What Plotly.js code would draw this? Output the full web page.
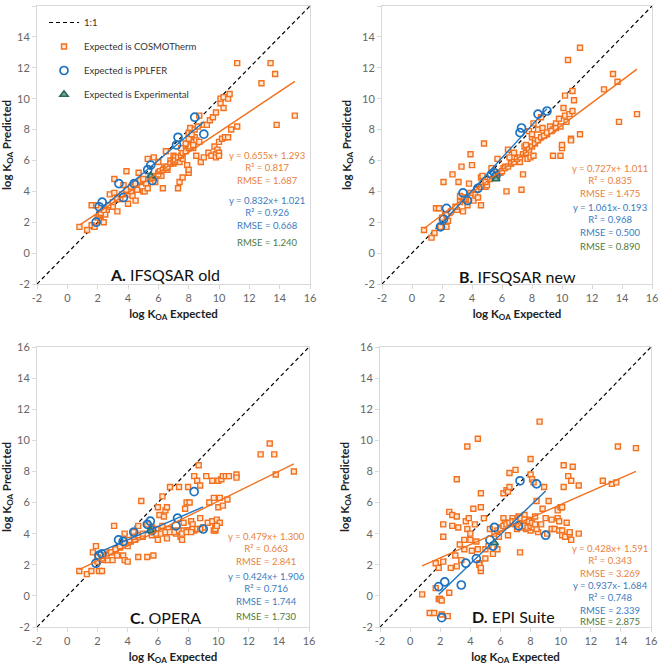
<!DOCTYPE html>
<html><head><meta charset="utf-8">
<script src="https://cdn.plot.ly/plotly-3.0.1.min.js"></script>
<style>body{margin:0;background:#fff}#c{width:661px;height:667px}</style>
</head><body><div id="c"></div>
<script>
// ---------- DATA ----------
var panelNames = ['A.', 'B.', 'C.', 'D.'];
var panelTitles = ['IFSQSAR old', 'IFSQSAR new', 'OPERA', 'EPI Suite'];

// [expected, predicted] pairs, "Expected is COSMOTherm"
var cosmoA = [[0.8,1.7],[1.3,1.5],[1.6,1.8],[1.8,1.7],[1.6,3.1],[1.9,3.1],[2.0,2.3],[2.1,2.5],[2.2,2.1],[2.4,2.0],[2.5,2.5],[2.6,2.8],[2.7,3.0],[2.8,3.8],[3.0,3.0],[3.1,3.9],[3.1,4.8],[3.3,2.7],[3.3,3.6],[3.5,3.5],[3.7,4.4],[3.9,5.3],[4.0,3.2],[4.0,3.8],[4.2,4.0],[4.3,3.7],[4.5,3.4],[4.6,4.1],[4.7,5.2],[4.9,4.6],[5.0,4.0],[5.1,4.0],[5.2,4.5],[5.3,6.1],[5.3,4.2],[5.5,4.8],[5.7,6.2],[5.8,4.6],[6.0,5.9],[6.0,5.2],[6.2,5.0],[6.3,4.2],[6.4,5.6],[6.5,6.6],[6.6,5.4],[6.8,6.0],[7.0,6.3],[7.0,5.8],[7.1,6.2],[7.3,4.2],[7.4,4.6],[7.4,5.9],[7.6,4.9],[7.6,6.1],[7.8,6.7],[7.9,5.7],[8.0,5.2],[8.0,5.4],[8.0,7.0],[8.0,7.8],[8.1,8.1],[8.3,6.8],[8.4,7.5],[8.5,6.3],[8.5,7.3],[8.7,8.9],[8.7,7.2],[8.8,5.9],[9.0,6.2],[9.0,8.3],[9.2,8.3],[9.3,6.5],[9.4,8.6],[9.5,6.3],[9.6,8.8],[9.7,6.9],[9.8,9.1],[9.8,6.4],[9.8,6.2],[9.9,6.7],[10.0,6.5],[10.0,6.3],[10.0,7.2],[10.1,9.7],[10.1,10.0],[10.2,7.4],[10.3,9.4],[10.3,10.1],[10.4,7.5],[10.6,7.5],[10.6,10.0],[10.7,10.3],[10.8,8.0],[11.2,12.3],[11.2,8.2],[12.8,11.0],[13.4,12.3],[13.7,11.6],[13.8,8.3],[15.0,8.9],
 [2.2,2.6],[2.4,2.8],[2.7,3.1],[3.0,3.3],[3.3,3.5],[3.6,3.8],[3.9,4.1],[4.2,4.3],[4.5,4.5],[4.8,4.7],[5.0,4.8],[5.6,4.9],[5.8,5.0],[6.0,5.1],[6.1,5.3],[6.3,5.4],[6.5,5.5],[6.6,5.6],[6.8,5.8],[7.0,5.9],[7.1,6.0],[7.3,6.2],[7.5,6.3],[7.6,6.5],[7.8,6.6],[8.0,6.8],[8.1,6.9],[8.3,7.0],[7.5,6.8],[7.8,7.1],[8.0,7.4],[8.2,7.7],[8.4,8.0],[8.6,8.2]];
var cosmoB = [[0.8,1.5],[1.3,1.0],[1.5,1.3],[1.6,2.9],[1.8,2.9],[1.9,1.7],[2.1,4.6],[2.2,2.5],[2.3,1.7],[2.4,2.1],[2.5,2.6],[2.7,5.1],[3.0,2.8],[3.1,4.6],[3.2,3.7],[3.3,5.6],[3.4,2.7],[3.6,3.5],[3.7,3.1],[3.8,4.5],[3.9,6.4],[4.0,5.7],[4.1,3.4],[4.2,3.8],[4.4,3.6],[4.6,4.9],[4.6,3.1],[4.7,5.0],[4.8,7.1],[4.9,4.3],[5.0,4.4],[5.3,5.5],[5.7,6.1],[5.9,5.2],[6.1,5.5],[6.2,5.6],[6.3,4.0],[6.4,6.7],[6.5,6.2],[6.6,5.8],[6.8,6.5],[7.0,6.0],[7.2,5.9],[7.3,4.1],[7.4,5.1],[7.5,6.9],[7.6,7.0],[7.8,7.9],[8.0,7.5],[8.0,7.7],[8.1,8.4],[8.2,7.3],[8.4,8.0],[8.6,8.8],[8.7,8.1],[8.8,7.6],[9.0,7.7],[9.2,8.2],[9.4,8.0],[9.4,6.3],[9.6,8.4],[9.8,8.7],[9.9,6.3],[10.0,6.8],[10.0,7.0],[10.1,9.4],[10.2,10.2],[10.2,8.9],[10.3,8.5],[10.4,12.5],[10.5,9.0],[10.6,7.4],[10.6,7.3],[10.7,10.5],[10.7,9.2],[10.8,9.9],[11.2,13.3],[11.2,7.7],[12.8,10.6],[13.4,11.6],[13.7,11.1],[13.8,8.5],[15.0,9.0],
 [2.0,2.3],[2.3,2.5],[2.6,2.7],[2.9,3.0],[3.2,3.3],[3.5,3.6],[3.9,3.9],[4.3,4.1],[4.6,4.3],[4.9,4.6],[5.2,4.8],[5.6,5.0],[5.8,5.2],[6.0,5.3],[6.2,5.5],[6.4,5.6],[6.6,5.8],[6.8,5.9],[7.0,6.1],[7.2,6.2],[7.4,6.4],[7.6,6.5],[7.8,6.7],[8.0,6.9],[8.2,7.1],[8.4,7.3],[8.6,7.5],[8.8,7.6],[9.0,7.8],[9.3,7.9],[9.6,8.1],[9.9,8.2],[7.7,6.1],[7.9,6.2],[8.1,6.3]];
var cosmoC = [[0.8,1.6],[1.3,1.4],[1.6,1.6],[1.7,2.8],[1.9,3.2],[2.0,2.5],[2.1,1.6],[2.3,1.6],[2.4,2.3],[2.5,2.6],[2.7,2.3],[2.8,2.8],[3.0,2.3],[3.1,4.5],[3.2,3.0],[3.3,2.6],[3.5,3.1],[3.7,2.6],[3.8,4.0],[3.8,2.3],[4.0,2.2],[4.0,3.2],[4.2,3.5],[4.4,4.1],[4.5,3.6],[4.7,2.5],[4.7,4.5],[4.9,6.1],[5.0,3.8],[5.3,4.6],[5.3,2.5],[5.6,4.4],[5.7,2.6],[5.9,4.3],[6.0,5.7],[6.0,3.6],[6.1,5.2],[6.3,4.5],[6.3,6.4],[6.4,5.1],[6.5,5.5],[6.6,5.7],[6.6,3.7],[6.7,4.3],[6.8,7.0],[7.0,4.2],[7.2,4.0],[7.4,7.0],[7.5,3.8],[7.6,3.6],[7.7,4.7],[7.8,5.6],[7.9,6.0],[8.0,7.0],[8.0,4.2],[8.1,6.0],[8.2,4.8],[8.3,4.6],[8.4,7.7],[8.4,4.2],[8.6,7.4],[8.7,8.4],[8.8,7.1],[8.8,5.0],[9.0,4.4],[9.2,7.7],[9.3,4.7],[9.4,6.0],[9.6,7.4],[9.6,4.8],[9.7,6.3],[9.8,4.2],[9.8,4.4],[9.9,4.9],[10.0,7.4],[10.0,5.7],[10.1,6.3],[10.1,4.7],[10.2,7.5],[10.3,7.7],[10.3,5.8],[10.5,7.7],[10.6,6.2],[10.7,7.7],[11.2,7.8],[11.2,7.6],[12.8,9.1],[13.4,9.8],[13.7,9.1],[13.8,7.8],[15.0,8.0],
 [2.0,2.2],[2.3,2.4],[2.6,2.6],[2.9,2.8],[3.2,3.0],[3.5,3.2],[3.8,3.4],[4.1,3.6],[4.4,3.8],[4.7,3.9],[5.0,4.0],[5.6,3.9],[5.9,4.0],[6.2,4.0],[6.5,4.1],[6.8,4.1],[7.1,4.1],[7.4,4.2],[7.7,4.2],[8.0,4.2],[8.3,4.3],[8.6,4.3],[8.8,4.3],[9.7,4.2],[9.8,4.3],[9.9,4.5],[7.6,4.0],[7.9,4.1],[8.2,4.1]];
var cosmoD = [[0.8,0.1],[1.3,-1.1],[1.6,-1.1],[1.7,0.5],[1.7,2.1],[1.9,1.8],[1.9,-0.2],[2.0,-0.2],[2.1,-0.3],[2.1,-1.2],[2.2,4.6],[2.2,3.8],[2.2,2.2],[2.5,-1.3],[2.6,0.2],[2.6,5.4],[2.7,1.8],[2.8,5.2],[2.8,4.5],[3.0,2.6],[3.1,1.9],[3.1,5.1],[3.1,7.5],[3.2,4.4],[3.3,3.3],[3.4,2.3],[3.6,3.6],[3.6,3.0],[3.7,4.8],[3.8,9.6],[3.8,4.3],[3.9,5.0],[4.0,4.0],[4.0,3.6],[4.1,2.9],[4.2,5.6],[4.3,4.6],[4.4,3.5],[4.5,10.1],[4.5,3.0],[4.6,2.1],[4.6,2.0],[4.7,1.6],[4.7,1.8],[4.7,6.6],[4.7,5.7],[4.9,5.0],[5.0,2.4],[5.0,3.0],[5.2,3.2],[5.3,4.3],[5.5,2.7],[5.6,4.0],[5.8,3.0],[5.9,3.8],[6.0,4.4],[6.2,6.6],[6.2,5.0],[6.3,4.7],[6.4,6.8],[6.5,6.7],[6.5,3.9],[6.6,7.9],[6.6,7.0],[6.8,5.0],[7.0,8.1],[7.0,4.6],[7.1,4.3],[7.2,5.1],[7.3,2.8],[7.4,4.8],[7.5,4.5],[7.6,5.2],[7.7,4.3],[7.8,4.9],[7.9,4.6],[8.0,8.8],[8.0,7.8],[8.0,4.2],[8.1,7.5],[8.2,7.3],[8.3,5.1],[8.4,6.1],[8.5,4.1],[8.6,11.2],[8.7,4.6],[8.8,5.6],[8.9,7.0],[9.0,5.0],[9.1,4.0],[9.2,6.1],[9.4,4.9],[9.4,4.3],[9.6,4.3],[9.8,5.5],[9.8,5.0],[9.9,4.2],[9.9,4.8],[10.0,5.7],[10.1,5.7],[10.1,4.2],[10.1,3.9],[10.2,8.4],[10.2,7.0],[10.3,3.8],[10.4,4.7],[10.5,7.7],[10.6,4.0],[10.6,4.1],[10.7,7.4],[10.7,3.6],[10.8,8.3],[11.2,7.1],[11.2,4.0],[12.8,7.4],[13.4,7.2],[13.7,7.3],[13.8,9.6],[15.0,9.5],
 [7.2,4.6],[7.4,4.4],[7.6,4.5],[7.8,4.4],[8.0,4.5],[8.2,4.4],[8.4,4.3],[7.3,5.0],[7.6,4.9],[7.9,4.8],[8.1,4.7],[8.3,4.6],[5.8,4.2],[6.0,4.3],[6.2,4.5],[6.4,4.6],[6.6,4.7],[6.8,4.8],[7.0,4.8]];

// "Expected is PPLFER"
var pplferX = [1.9, 2.1, 2.3, 3.4, 3.7, 4.4, 5.3, 5.5, 5.6, 7.2, 7.3, 8.4, 9.0];
var pplferA = [2.0, 3.0, 3.3, 4.5, 3.6, 4.5, 5.4, 5.7, 4.7, 7.0, 7.5, 8.8, 7.7];
var pplferB = [1.7, 2.2, 2.9, 3.9, 3.4, 4.2, 5.1, 5.2, 5.0, 7.8, 8.1, 9.0, 9.2];
var pplferC = [2.1, 2.6, 2.7, 3.6, 3.5, 4.1, 4.6, 4.8, 4.2, 4.5, 5.0, 6.7, 4.3];
var pplferD = [0.6, -1.4, 0.9, 0.7, 2.1, 2.4, 3.6, 3.2, 4.4, 4.5, 7.4, 7.2, 3.9];

// "Expected is Experimental"
var expX = [5.5, 5.6, 5.5, 5.6];
var expY = [5.0, 4.8, 4.2, 3.4];

// regression results per panel
var cosmoSlope = [0.655, 0.727, 0.479, 0.428];
var cosmoIntercept = [1.293, 1.011, 1.300, 1.591];
var cosmoR2 = ['0.817', '0.835', '0.663', '0.343'];
var cosmoRMSE = ['1.687', '1.475', '2.841', '3.269'];
var pplferSlope = [0.832, 1.061, 0.424, 0.937];
var pplferIntercept = [1.021, -0.193, 1.906, -1.684];
var pplferR2 = ['0.926', '0.968', '0.716', '0.748'];
var pplferRMSE = ['0.668', '0.500', '1.744', '2.339'];
var expRMSE = ['1.240', '0.890', '1.730', '2.875'];
var eqText = ['y = 0.655x+ 1.293', 'y = 0.727x+ 1.011', 'y = 0.479x+ 1.300', 'y = 0.428x+ 1.591'];
var eqTextB = ['y = 0.832x+ 1.021', 'y = 1.061x- 0.193', 'y = 0.424x+ 1.906', 'y = 0.937x- 1.684'];
var axisTicks = [-2, 0, 2, 4, 6, 8, 10, 12, 14, 16];

// ---------- LAYOUT ----------
var W = 661, H = 667;
function px(x) { return x / W; }
function py(y) { return 1 - y / H; }
var boxes = [ // [left, right, top, bottom] in px
  [37, 310, 6, 284], [382, 652, 6, 284], [37, 309, 347, 627], [380, 651, 347, 627]];
var txtPos = [ // center x, [orange block centre y, blue block centre y, green y]
  [267, [168, 213, 242]],
  [610, [181, 220, 247]],
  [266, [549, 589, 616]],
  [610, [561, 598, 621]]];
var labelPos = [[165, 275], [517, 277], [165, 617], [513, 616]];

var ORANGE = '#F2701E', ORANGE_T = '#E8823C', BLUE = '#1E73C0', BLUE_T = '#3A7CC0', GREEN = '#2C6B5F', GREEN_T = '#4F7A3A';
var FONT = 'Lato, "Open Sans", sans-serif';
var cosmo = [cosmoA, cosmoB, cosmoC, cosmoD];
var pplfer = [pplferA, pplferB, pplferC, pplferD];

var traces = [], annotations = [];
var layout = {
  width: W, height: H, margin: {l: 0, r: 0, t: 0, b: 0},
  paper_bgcolor: '#fff', plot_bgcolor: '#fff',
  font: {family: FONT, color: '#595959'},
  showlegend: true,
  legend: {x: px(44), y: py(8), xanchor: 'left', yanchor: 'top', bgcolor: 'rgba(0,0,0,0)',
           font: {family: FONT, size: 9.5, color: '#333'}, tracegroupgap: 5, itemwidth: 30}
};

for (var i = 0; i < 4; i++) {
  var sfx = i === 0 ? '' : String(i + 1);
  var xa = 'x' + sfx, ya = 'y' + sfx;
  var b = boxes[i];
  var axCommon = {
    range: [-2, 16], tickvals: axisTicks, ticktext: axisTicks.map(String), showgrid: false, zeroline: false,
    showline: true, linecolor: '#D9D9D9', linewidth: 1, mirror: true,
    ticks: 'outside', ticklen: 4, tickcolor: '#D9D9D9',
    tickfont: {family: FONT, size: 11, color: '#666'}
  };
  layout['xaxis' + sfx] = Object.assign({}, axCommon, {
    domain: [px(b[0]), px(b[1])], anchor: ya,
    title: {text: 'log K<sub>OA</sub> Expected', font: {family: FONT, size: 11.5, color: '#222', weight: 'bold'}, standoff: 6}
  });
  layout['yaxis' + sfx] = Object.assign({}, axCommon, {
    domain: [py(b[3]), py(b[2])], anchor: xa,
    title: {text: 'log K<sub>OA</sub> Predicted', font: {family: FONT, size: 11.5, color: '#222', weight: 'bold'}, standoff: 8}
  });

  var show = i === 0;
  function grp(t, g) { if (show) { t.legendgroup = g; } t.showlegend = show; return t; }
  // 1:1 line
  traces.push(grp({x: [axisTicks[0], axisTicks[axisTicks.length - 1]], y: [axisTicks[0], axisTicks[axisTicks.length - 1]],
    mode: 'lines', line: {color: '#000', width: 1.2, dash: '4px,3px'}, name: '1:1',
    xaxis: xa, yaxis: ya, hoverinfo: 'skip'}, 'g1'));
  // cosmo scatter
  var cx = cosmo[i].map(function (p) { return p[0]; });
  var cy = cosmo[i].map(function (p) { return p[1]; });
  traces.push(grp({x: cx, y: cy, mode: 'markers', name: 'Expected is COSMOTherm',
    marker: {symbol: 'square', size: 5, color: '#FFE6D2', line: {color: ORANGE, width: 1.4}},
    xaxis: xa, yaxis: ya}, 'g2'));
  // pplfer scatter
  traces.push(grp({x: pplferX, y: pplfer[i], mode: 'markers', name: 'Expected is PPLFER',
    marker: {symbol: 'circle-open', size: 8, color: BLUE, line: {color: BLUE, width: 1.7}},
    xaxis: xa, yaxis: ya}, 'g3'));
  // experimental
  traces.push(grp({x: [expX[i]], y: [expY[i]], mode: 'markers', name: 'Expected is Experimental',
    marker: {symbol: 'triangle-up', size: 7, color: '#7FB0A0', line: {color: GREEN, width: 1.7}},
    xaxis: xa, yaxis: ya}, 'g4'));
  // fit lines
  var cmin = Math.min.apply(null, cx), cmax = Math.max.apply(null, cx);
  traces.push({x: [cmin, cmax], y: [cosmoSlope[i] * cmin + cosmoIntercept[i], cosmoSlope[i] * cmax + cosmoIntercept[i]],
    mode: 'lines', line: {color: ORANGE, width: 1.4}, xaxis: xa, yaxis: ya, showlegend: false, hoverinfo: 'skip'});
  var pmin = Math.min.apply(null, pplferX), pmax = Math.max.apply(null, pplferX);
  traces.push({x: [pmin, pmax], y: [pplferSlope[i] * pmin + pplferIntercept[i], pplferSlope[i] * pmax + pplferIntercept[i]],
    mode: 'lines', line: {color: BLUE, width: 1.4}, xaxis: xa, yaxis: ya, showlegend: false, hoverinfo: 'skip'});

  // statistics text
  var tp = txtPos[i];
  var blocks = [
    [eqText[i] + '<br>R\u00B2 = ' + cosmoR2[i] + '<br>RMSE = ' + cosmoRMSE[i], ORANGE_T],
    [eqTextB[i] + '<br>R\u00B2 = ' + pplferR2[i] + '<br>RMSE = ' + pplferRMSE[i], BLUE_T],
    ['RMSE = ' + expRMSE[i], GREEN_T]];
  for (var k = 0; k < blocks.length; k++) {
    annotations.push({xref: 'paper', yref: 'paper', x: px(tp[0]), y: py(tp[1][k]), xanchor: 'center', yanchor: 'middle',
      align: 'center', text: blocks[k][0], showarrow: false, font: {family: FONT, size: 9.5, color: blocks[k][1]}});
  }
  // panel label
  annotations.push({xref: 'paper', yref: 'paper', x: px(labelPos[i][0]), y: py(labelPos[i][1]), xanchor: 'center', yanchor: 'middle',
    text: '<b>' + panelNames[i] + '</b> ' + panelTitles[i], showarrow: false, font: {family: FONT, size: 16, color: '#111'}});
}
layout.annotations = annotations;
Plotly.newPlot('c', traces, layout, {staticPlot: true, displayModeBar: false});
</script></body></html>
